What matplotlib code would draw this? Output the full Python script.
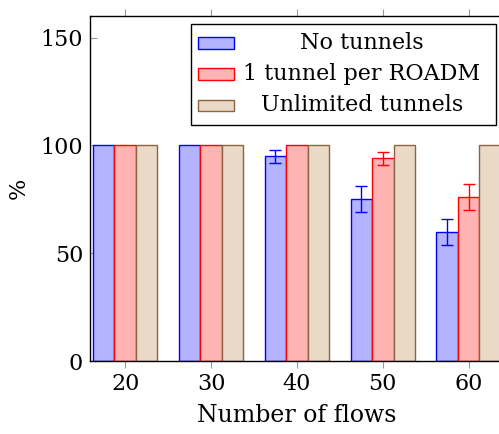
import matplotlib
matplotlib.use("Agg")
import matplotlib.pyplot as plt
from matplotlib.patches import Rectangle
import numpy as np

flows = [20, 30, 40, 50, 60]
no_tunnels = [100, 100, 95, 75, 60]
no_tunnels_err = [0, 0, 3, 6, 6]
one_tunnel = [100, 100, 100, 94, 76]
one_tunnel_err = [0, 0, 0, 3, 6]
unlimited = [100, 100, 100, 100, 100]
labels = ["No tunnels", "1 tunnel per ROADM", "Unlimited tunnels"]

plt.rcParams['font.family'] = ['DejaVu Serif']
FS = 16

W, H = 499, 434
fig = plt.figure(figsize=(W / 100, H / 100), dpi=100)
ax = fig.add_axes([90 / W, 1 - 361 / H, (503 - 90) / W, (361 - 16) / H])

blue_f, blue_e = '#b3b3ff', '#0000ff'
red_f, red_e = '#ffb3b3', '#ff0000'
brn_f, brn_e = '#ead9c6', '#8c6440'

x = np.array(flows, dtype=float)
bw = 2.5
series = [(no_tunnels, no_tunnels_err, blue_f, blue_e, -bw),
          (one_tunnel, one_tunnel_err, red_f, red_e, 0),
          (unlimited, None, brn_f, brn_e, bw)]
for vals, err, fc, ec, off in series:
    ax.bar(x + off, vals, width=bw, color=fc, edgecolor=ec, linewidth=1.0, zorder=2)
    if err is not None:
        xs = [xi + off for xi, e in zip(x, err) if e > 0]
        ys = [v for v, e in zip(vals, err) if e > 0]
        es = [e for e in err if e > 0]
        ax.errorbar(xs, ys, yerr=es, fmt='none', ecolor=ec, elinewidth=1.0,
                    capsize=4, capthick=1.0, zorder=3)

ax.set_xlim(15.9, 64.0)
ax.set_ylim(0, 160)
ax.set_xticks(flows)
ax.set_xticklabels([str(f) for f in flows], fontsize=FS)
ax.set_yticks([0, 50, 100, 150])
ax.set_yticklabels(['0', '50', '100', '150'], fontsize=FS)
ax.tick_params(axis='x', direction='out', length=5, color='#999999', top=True, bottom=True, pad=4)
ax.tick_params(axis='y', direction='in', length=5, color='#999999', left=True, right=False, pad=5)
for s in ax.spines.values():
    s.set_linewidth(1.0)
ax.set_xlabel("Number of flows", fontsize=17, labelpad=6)
ax.set_ylabel("%", fontsize=FS, labelpad=8)

# legend drawn manually (centered texts like pgfplots)
def fx(px):
    return px / W

def fy(py):
    return 1 - py / H

fig.patches.append(Rectangle((fx(191), fy(125)), fx(496) - fx(191), fy(24) - fy(125),
                             transform=fig.transFigure, facecolor='white',
                             edgecolor='black', linewidth=1.0, zorder=5))
rows = [43, 74, 105]
for (fc, ec), lab, ry in zip([(blue_f, blue_e), (red_f, red_e), (brn_f, brn_e)], labels, rows):
    fig.patches.append(Rectangle((fx(198), fy(ry + 5.5)), fx(234) - fx(198), fy(ry - 5.5) - fy(ry + 5.5),
                                 transform=fig.transFigure, facecolor=fc, edgecolor=ec,
                                 linewidth=1.0, zorder=6))
    fig.text(fx(362), fy(ry), lab, fontsize=FS, ha='center', va='center', zorder=7)

fig.savefig("out.png", dpi=100)
